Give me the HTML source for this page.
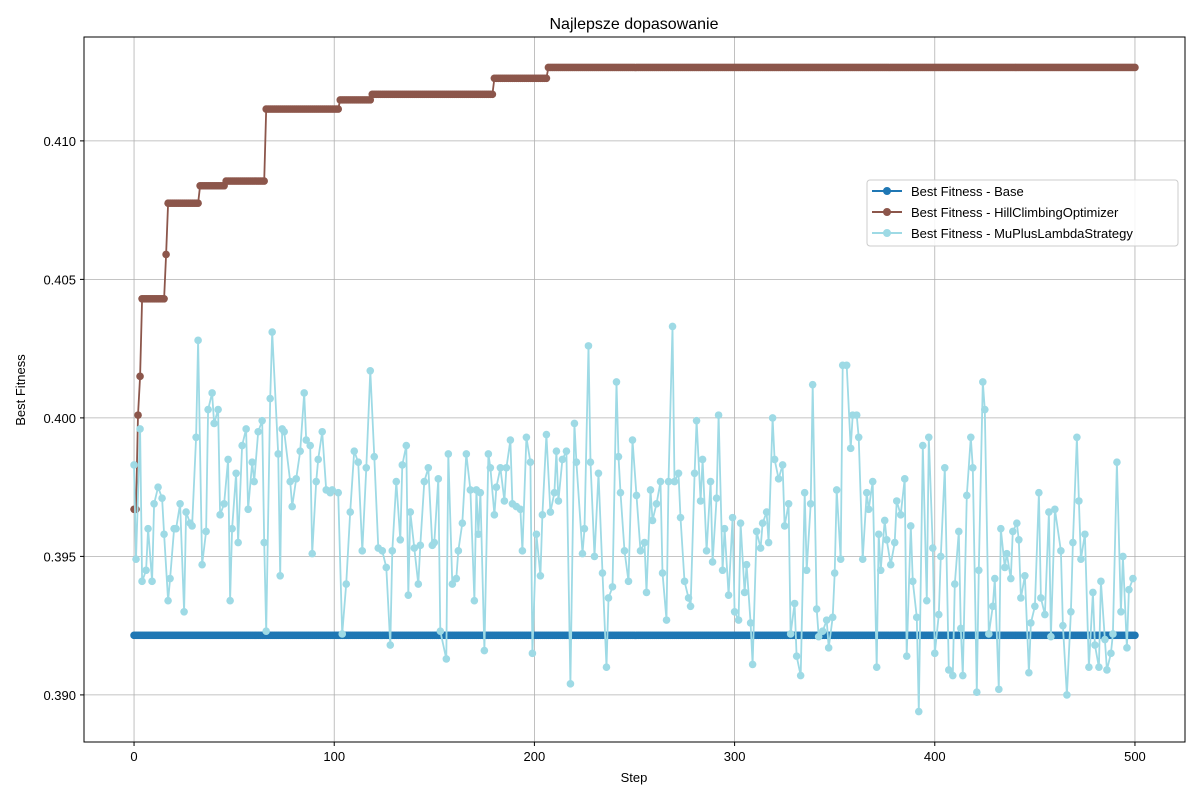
<!DOCTYPE html>
<html><head><meta charset="utf-8"><style>
body{margin:0;background:#fff;}
svg{display:block;font-family:"Liberation Sans","DejaVu Sans",sans-serif;}
</style></head><body>
<svg id="chart" width="1200" height="800">
<rect width="1200" height="800" fill="#fff"/>
<text x="634" y="29" text-anchor="middle" font-size="16">Najlepsze dopasowanie</text>
<g id="grid"></g>
<g id="axes"></g>
<g id="series"></g>
<rect x="84" y="37" width="1101" height="705" fill="none" stroke="#000" stroke-width="1"/>
<text x="634" y="782" text-anchor="middle" font-size="13">Step</text>
<text transform="translate(25,390) rotate(-90)" text-anchor="middle" font-size="13">Best Fitness</text>
<g id="legend">
<rect x="867" y="180" width="311" height="66" rx="3" fill="#fff" fill-opacity="0.85" stroke="#ccc"/>
<g><line x1="872" y1="191" x2="902" y2="191" stroke="#1f77b4" stroke-width="2"/><circle cx="887" cy="191" r="4" fill="#1f77b4"/><text x="911" y="196" font-size="13">Best Fitness - Base</text></g>
<g><line x1="872" y1="212" x2="902" y2="212" stroke="#8c564b" stroke-width="2"/><circle cx="887" cy="212" r="4" fill="#8c564b"/><text x="911" y="217" font-size="13">Best Fitness - HillClimbingOptimizer</text></g>
<g><line x1="872" y1="233" x2="902" y2="233" stroke="#9edae5" stroke-width="2"/><circle cx="887" cy="233" r="4" fill="#9edae5"/><text x="911" y="238" font-size="13">Best Fitness - MuPlusLambdaStrategy</text></g>
</g>
</svg>
<script>
const xTicks=[0,100,200,300,400,500];
const yTicks=[0.390,0.395,0.400,0.405,0.410];
const yTickLabels=["0.390","0.395","0.400","0.405","0.410"];
const baseValue=0.39215;
const lastStep=500;
const hillSteps=[0,2,3,4,16,17,33,46,66,103,119,180,207];
const hillVals=[0.3967,0.4001,0.4015,0.4043,0.4059,0.40775,0.40838,0.40855,0.41115,0.41148,0.41168,0.41226,0.41265];
const muSteps=[0,1,3,4,6,7,9,10,12,14,15,17,18,20,21,23,25,26,28,29,31,32,34,36,37,39,40,42,43,45,47,48,49,51,52,54,56,57,59,60,62,64,65,66,68,69,72,73,74,75,78,79,81,83,85,86,88,89,91,92,94,96,98,99,102,104,106,108,110,112,114,116,118,120,122,124,126,128,129,131,133,134,136,137,138,140,142,143,145,147,149,150,152,153,156,157,159,161,162,164,166,168,170,171,172,173,175,177,178,180,181,183,185,186,188,189,191,193,194,196,198,199,201,203,204,206,208,210,211,212,214,216,218,220,221,224,225,227,228,230,232,234,236,237,239,241,242,243,245,247,249,251,253,255,256,258,259,261,263,264,266,267,269,270,272,273,275,277,278,280,281,283,284,286,288,289,291,292,294,295,297,299,300,302,303,305,306,308,309,311,313,314,316,317,319,320,322,324,325,327,328,330,331,333,335,336,338,339,341,342,344,346,347,349,350,351,353,354,356,358,359,361,362,364,366,367,369,371,372,373,375,376,378,380,381,383,385,386,388,389,391,392,394,396,397,399,400,402,403,405,407,409,410,412,413,414,416,418,419,421,422,424,425,427,429,430,432,433,435,436,438,439,441,442,443,445,447,448,450,452,453,455,457,458,460,463,464,466,468,469,471,472,473,475,477,479,480,482,483,485,486,488,489,491,493,494,496,497,499];
const muVals=[0.3983,0.3949,0.3996,0.3941,0.3945,0.3960,0.3941,0.3969,0.3975,0.3971,0.3958,0.3934,0.3942,0.3960,0.3960,0.3969,0.3930,0.3966,0.3962,0.3961,0.3993,0.4028,0.3947,0.3959,0.4003,0.4009,0.3998,0.4003,0.3965,0.3969,0.3985,0.3934,0.3960,0.3980,0.3955,0.3990,0.3996,0.3967,0.3984,0.3977,0.3995,0.3999,0.3955,0.3923,0.4007,0.4031,0.3987,0.3943,0.3996,0.3995,0.3977,0.3968,0.3978,0.3988,0.4009,0.3992,0.3990,0.3951,0.3977,0.3985,0.3995,0.3974,0.3973,0.3974,0.3973,0.3922,0.3940,0.3966,0.3988,0.3984,0.3952,0.3982,0.4017,0.3986,0.3953,0.3952,0.3946,0.3918,0.3952,0.3977,0.3956,0.3983,0.3990,0.3936,0.3966,0.3953,0.3940,0.3954,0.3977,0.3982,0.3954,0.3955,0.3978,0.3923,0.3913,0.3987,0.3940,0.3942,0.3952,0.3962,0.3987,0.3974,0.3934,0.3974,0.3958,0.3973,0.3916,0.3987,0.3982,0.3965,0.3975,0.3982,0.3970,0.3982,0.3992,0.3969,0.3968,0.3967,0.3952,0.3993,0.3984,0.3915,0.3958,0.3943,0.3965,0.3994,0.3966,0.3973,0.3988,0.3970,0.3985,0.3988,0.3904,0.3998,0.3984,0.3951,0.3960,0.4026,0.3984,0.3950,0.3980,0.3944,0.3910,0.3935,0.3939,0.4013,0.3986,0.3973,0.3952,0.3941,0.3992,0.3972,0.3952,0.3955,0.3937,0.3974,0.3963,0.3969,0.3977,0.3944,0.3927,0.3977,0.4033,0.3977,0.3980,0.3964,0.3941,0.3935,0.3932,0.3980,0.3999,0.3970,0.3985,0.3952,0.3977,0.3948,0.3971,0.4001,0.3945,0.3960,0.3936,0.3964,0.3930,0.3927,0.3962,0.3937,0.3947,0.3926,0.3911,0.3959,0.3953,0.3962,0.3966,0.3955,0.4000,0.3985,0.3978,0.3983,0.3961,0.3969,0.3922,0.3933,0.3914,0.3907,0.3973,0.3945,0.3969,0.4012,0.3931,0.3921,0.3923,0.3927,0.3917,0.3928,0.3944,0.3974,0.3949,0.4019,0.4019,0.3989,0.4001,0.4001,0.3993,0.3949,0.3973,0.3967,0.3977,0.3910,0.3958,0.3945,0.3963,0.3956,0.3947,0.3955,0.3970,0.3965,0.3978,0.3914,0.3961,0.3941,0.3928,0.3894,0.3990,0.3934,0.3993,0.3953,0.3915,0.3929,0.3950,0.3982,0.3909,0.3907,0.3940,0.3959,0.3924,0.3907,0.3972,0.3993,0.3982,0.3901,0.3945,0.4013,0.4003,0.3922,0.3932,0.3942,0.3902,0.3960,0.3946,0.3951,0.3942,0.3959,0.3962,0.3956,0.3935,0.3943,0.3908,0.3926,0.3932,0.3973,0.3935,0.3929,0.3966,0.3921,0.3967,0.3952,0.3925,0.3900,0.3930,0.3955,0.3993,0.3970,0.3949,0.3958,0.3910,0.3937,0.3918,0.3910,0.3941,0.3920,0.3909,0.3915,0.3922,0.3984,0.3930,0.3950,0.3917,0.3938,0.3942];

const NS="http://www.w3.org/2000/svg";
const X0=84,X1=1185,Y0=37,Y1=742;
const xMin=-25,xMax=525,yMin=0.38830,yMax=0.41375;
const xs=v=>X0+(v-xMin)/(xMax-xMin)*(X1-X0);
const ys=v=>Y1-(v-yMin)/(yMax-yMin)*(Y1-Y0);
function mk(tag,attrs,parent){const e=document.createElementNS(NS,tag);for(const k in attrs)e.setAttribute(k,attrs[k]);parent.appendChild(e);return e;}
const grid=document.getElementById('grid'),axes=document.getElementById('axes'),ser=document.getElementById('series');
xTicks.forEach(t=>{const x=xs(t);
 const g=mk('line',{x1:x,x2:x,y1:Y0,y2:Y1,stroke:'#b0b0b0','stroke-width':0.8},grid);
 
 
 mk('line',{x1:x,x2:x,y1:Y1,y2:Y1+4,stroke:'#000'},axes);
 const l=mk('text',{x:x,y:Y1+19,'text-anchor':'middle','font-size':13},axes);l.textContent=t;
 
 
});
yTicks.forEach((t,i)=>{const y=ys(t);
 const g=mk('line',{x1:X0,x2:X1,y1:y,y2:y,stroke:'#b0b0b0','stroke-width':0.8},grid);
 
 
 mk('line',{x1:X0-4,x2:X0,y1:y,y2:y,stroke:'#000'},axes);
 const l=mk('text',{x:X0-8,y:y+5,'text-anchor':'end','font-size':13},axes);l.textContent=yTickLabels[i];
 
 
});
function drawSeries(steps,vals,color,name){
 const g=mk('g',{},ser);
 
 
 const pts=steps.map((s,i)=>xs(s).toFixed(1)+','+ys(vals[i]).toFixed(1)).join(' ');
 mk('polyline',{points:pts,fill:'none',stroke:color,'stroke-width':1.8},g);
 steps.forEach((s,i)=>{const c=mk('circle',{cx:xs(s),cy:ys(vals[i]),r:3.8,fill:color},g);
  
  });
}
const bSteps=[],bVals=[];
for(let s=0;s<=lastStep;s++){bSteps.push(s);bVals.push(baseValue);}
const hSteps=[],hVals=[];
for(let s=0;s<=lastStep;s++){let k=0;for(let j=0;j<hillSteps.length;j++)if(hillSteps[j]<=s)k=j;hSteps.push(s);hVals.push(hillVals[k]);}
drawSeries(bSteps,bVals,'#1f77b4','base-series');
drawSeries(hSteps,hVals,'#8c564b','hillclimbing-series');
drawSeries(muSteps,muVals,'#9edae5','mupluslambda-series');
</script>
</body></html>
